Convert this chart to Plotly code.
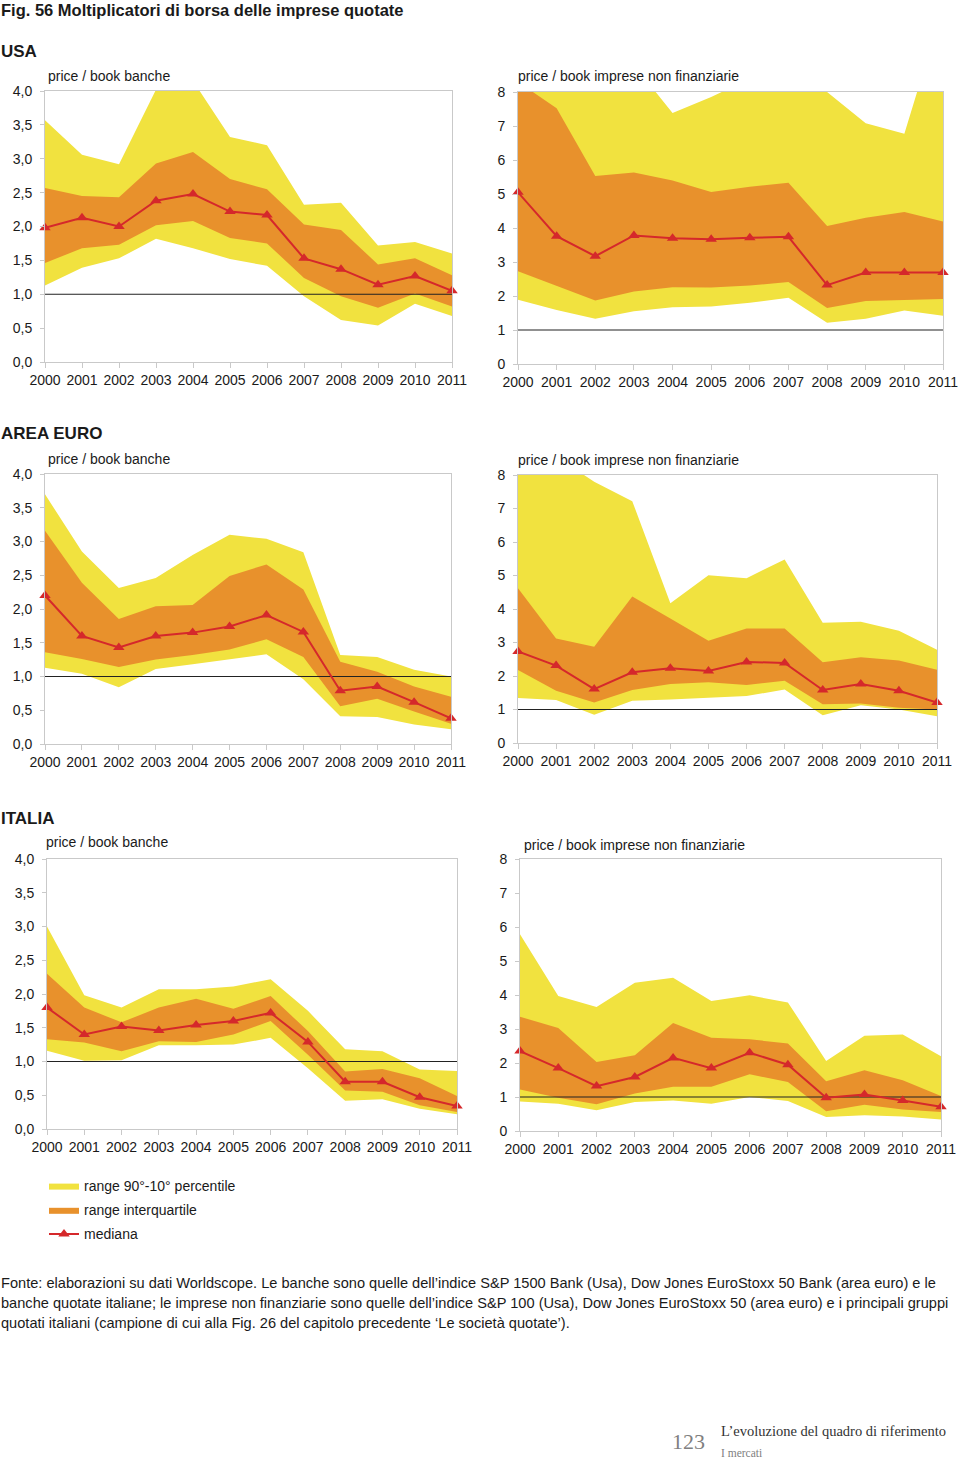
import plotly.graph_objects as go

# ---------------- DATA ----------------
YEARS = [2000, 2001, 2002, 2003, 2004, 2005, 2006, 2007, 2008, 2009, 2010, 2011]

# USA - banche
USA_BANK_P90 = [3.57, 3.06, 2.92, 4.02, 4.15, 3.32, 3.20, 2.32, 2.35, 1.72, 1.77, 1.60]
USA_BANK_Q75 = [2.57, 2.45, 2.43, 2.93, 3.10, 2.70, 2.55, 2.03, 1.95, 1.44, 1.53, 1.28]
USA_BANK_MED = [1.98, 2.13, 2.00, 2.38, 2.48, 2.22, 2.17, 1.53, 1.37, 1.14, 1.27, 1.05]
USA_BANK_Q25 = [1.46, 1.68, 1.73, 2.02, 2.08, 1.83, 1.75, 1.24, 0.97, 0.80, 1.01, 0.82]
USA_BANK_P10 = [1.13, 1.39, 1.53, 1.82, 1.68, 1.52, 1.42, 0.97, 0.62, 0.54, 0.86, 0.68]

# USA - imprese non finanziarie
USA_NF_P90 = [9.5, 9.3, 9.0, 8.8, 7.38, 7.85, 8.4, 9.0, 8.0, 7.08, 6.77, 10.5]
USA_NF_Q75 = [8.3, 7.52, 5.53, 5.63, 5.40, 5.06, 5.21, 5.33, 4.06, 4.30, 4.47, 4.19]
USA_NF_MED = [5.05, 3.76, 3.17, 3.78, 3.70, 3.67, 3.71, 3.74, 2.32, 2.69, 2.69, 2.69]
USA_NF_Q25 = [2.73, 2.29, 1.87, 2.13, 2.26, 2.25, 2.31, 2.41, 1.65, 1.85, 1.87, 1.91]
USA_NF_P10 = [1.89, 1.59, 1.33, 1.55, 1.67, 1.69, 1.80, 1.95, 1.21, 1.33, 1.57, 1.42]

# AREA EURO - banche
EUR_BANK_P90 = [3.70, 2.85, 2.31, 2.46, 2.80, 3.10, 3.04, 2.84, 1.32, 1.29, 1.10, 1.00]
EUR_BANK_Q75 = [3.16, 2.39, 1.85, 2.04, 2.06, 2.49, 2.66, 2.29, 1.22, 1.07, 0.85, 0.70]
EUR_BANK_MED = [2.20, 1.60, 1.43, 1.60, 1.65, 1.74, 1.91, 1.66, 0.79, 0.85, 0.62, 0.38]
EUR_BANK_Q25 = [1.36, 1.26, 1.14, 1.25, 1.32, 1.40, 1.55, 1.29, 0.56, 0.67, 0.48, 0.30]
EUR_BANK_P10 = [1.13, 1.04, 0.84, 1.11, 1.18, 1.25, 1.33, 0.96, 0.41, 0.40, 0.29, 0.22]

# AREA EURO - imprese non finanziarie
EUR_NF_P90 = [9.0, 8.55, 7.80, 7.22, 4.17, 5.01, 4.92, 5.48, 3.59, 3.62, 3.35, 2.78]
EUR_NF_Q75 = [4.62, 3.12, 2.87, 4.37, 3.72, 3.05, 3.42, 3.42, 2.41, 2.56, 2.46, 2.19]
EUR_NF_MED = [2.73, 2.31, 1.61, 2.11, 2.23, 2.15, 2.42, 2.39, 1.58, 1.76, 1.56, 1.21]
EUR_NF_Q25 = [2.18, 1.56, 1.21, 1.58, 1.76, 1.81, 1.73, 1.86, 1.16, 1.18, 1.05, 1.00]
EUR_NF_P10 = [1.34, 1.28, 0.84, 1.26, 1.30, 1.35, 1.40, 1.60, 0.83, 1.13, 1.00, 0.80]

# ITALIA - banche
ITA_BANK_P90 = [3.00, 1.98, 1.80, 2.07, 2.07, 2.11, 2.22, 1.75, 1.18, 1.15, 0.88, 0.86]
ITA_BANK_Q75 = [2.30, 1.80, 1.58, 1.80, 1.93, 1.78, 1.97, 1.45, 0.85, 0.89, 0.75, 0.49]
ITA_BANK_MED = [1.80, 1.40, 1.52, 1.46, 1.54, 1.60, 1.72, 1.29, 0.70, 0.70, 0.47, 0.34]
ITA_BANK_Q25 = [1.33, 1.28, 1.15, 1.30, 1.29, 1.40, 1.60, 1.10, 0.57, 0.55, 0.35, 0.25]
ITA_BANK_P10 = [1.16, 1.01, 1.02, 1.24, 1.24, 1.25, 1.35, 0.90, 0.42, 0.44, 0.30, 0.22]

# ITALIA - imprese non finanziarie
ITA_NF_P90 = [5.79, 3.97, 3.65, 4.36, 4.51, 3.82, 3.99, 3.78, 2.06, 2.80, 2.84, 2.20]
ITA_NF_Q75 = [3.36, 3.03, 2.03, 2.23, 3.18, 2.74, 2.70, 2.57, 1.46, 1.79, 1.49, 1.03]
ITA_NF_MED = [2.35, 1.85, 1.32, 1.59, 2.15, 1.85, 2.30, 1.95, 0.98, 1.07, 0.90, 0.71]
ITA_NF_Q25 = [1.22, 0.98, 0.79, 1.10, 1.30, 1.30, 1.67, 1.44, 0.58, 0.77, 0.63, 0.56]
ITA_NF_P10 = [0.87, 0.80, 0.61, 0.85, 0.90, 0.80, 1.00, 0.88, 0.41, 0.46, 0.43, 0.34]

REF_LEVEL = 1  # price/book = 1 reference line

SUBTITLE_BANK = "price / book banche"
SUBTITLE_NF = "price / book imprese non finanziarie"
LEGEND_NAMES = ["range 90°-10° percentile", "range interquartile", "mediana"]

# ---------------- STYLE ----------------
W, H = 960, 1460
YELLOW = "#F1E23F"
ORANGE = "#E8912C"
RED = "#D5282B"
FRAME = "#C9C9C9"
TXT = "#1a1a1a"
FONT = "Liberation Sans, Arial, sans-serif"
TITLE_FONT = "Liberation Sans, Arial, sans-serif"


def px(x):
    return x / W


def py(y):
    return 1 - y / H


# panel definitions: (data, x-pixel span, y-pixel span (top,bottom), ymax, dtick, fmt)
panels = [
    ((USA_BANK_P10, USA_BANK_Q25, USA_BANK_MED, USA_BANK_Q75, USA_BANK_P90), (45, 452), (91, 362), 4, 0.5, ".1f"),
    ((USA_NF_P10, USA_NF_Q25, USA_NF_MED, USA_NF_Q75, USA_NF_P90), (518, 943), (92, 364), 8, 1, "d"),
    ((EUR_BANK_P10, EUR_BANK_Q25, EUR_BANK_MED, EUR_BANK_Q75, EUR_BANK_P90), (45, 451), (474, 744), 4, 0.5, ".1f"),
    ((EUR_NF_P10, EUR_NF_Q25, EUR_NF_MED, EUR_NF_Q75, EUR_NF_P90), (518, 937), (475, 743), 8, 1, "d"),
    ((ITA_BANK_P10, ITA_BANK_Q25, ITA_BANK_MED, ITA_BANK_Q75, ITA_BANK_P90), (47, 457), (859, 1129), 4, 0.5, ".1f"),
    ((ITA_NF_P10, ITA_NF_Q25, ITA_NF_MED, ITA_NF_Q75, ITA_NF_P90), (520, 941), (859, 1131), 8, 1, "d"),
]

fig = go.Figure()
layout_axes = {}

for i, (data, (x0, x1), (yt, yb), ymax, dtick, fmt) in enumerate(panels, start=1):
    p10, q25, med, q75, p90 = data
    xa = "x" if i == 1 else f"x{i}"
    ya = "y" if i == 1 else f"y{i}"
    first = i == 1

    fig.add_trace(go.Scatter(x=YEARS, y=p10, xaxis=xa, yaxis=ya, mode="lines",
                             line=dict(width=0, color=YELLOW), showlegend=False,
                             hoverinfo="skip", legendgroup="g1"))
    fig.add_trace(go.Scatter(x=YEARS, y=p90, xaxis=xa, yaxis=ya, mode="lines",
                             line=dict(width=0, color=YELLOW), fill="tonexty",
                             fillcolor=YELLOW, name=LEGEND_NAMES[0], showlegend=first,
                             legendgroup="g1"))
    fig.add_trace(go.Scatter(x=YEARS, y=q25, xaxis=xa, yaxis=ya, mode="lines",
                             line=dict(width=0, color=ORANGE), showlegend=False,
                             hoverinfo="skip", legendgroup="g2"))
    fig.add_trace(go.Scatter(x=YEARS, y=q75, xaxis=xa, yaxis=ya, mode="lines",
                             line=dict(width=0, color=ORANGE), fill="tonexty",
                             fillcolor=ORANGE, name=LEGEND_NAMES[1], showlegend=first,
                             legendgroup="g2"))
    fig.add_trace(go.Scatter(x=[YEARS[0], YEARS[-1]], y=[REF_LEVEL, REF_LEVEL],
                             xaxis=xa, yaxis=ya, mode="lines",
                             line=dict(width=1.2, color="#222222"), showlegend=False,
                             hoverinfo="skip"))
    fig.add_trace(go.Scatter(x=YEARS, y=med, xaxis=xa, yaxis=ya, mode="lines+markers",
                             line=dict(width=2, color=RED),
                             marker=dict(symbol="triangle-up", size=10, color=RED),
                             name=LEGEND_NAMES[2], showlegend=first, legendgroup="g3",
                             cliponaxis=False))

    xkey = "xaxis" if i == 1 else f"xaxis{i}"
    ykey = "yaxis" if i == 1 else f"yaxis{i}"
    layout_axes[xkey] = dict(
        domain=[px(x0), px(x1)], anchor=ya, range=[YEARS[0], YEARS[-1]],
        tickvals=YEARS, ticks="outside", ticklen=5, tickcolor=FRAME,
        showline=True, linecolor=FRAME, linewidth=1, mirror=True, automargin=False,
        showgrid=False, zeroline=False, tickfont=dict(size=14, color=TXT, family=FONT),
    )
    layout_axes[ykey] = dict(
        domain=[py(yb), py(yt)], anchor=xa, range=[0, ymax], dtick=dtick, tick0=0,
        tickformat=fmt, ticks="outside", ticklen=4, tickcolor=FRAME,
        showline=True, linecolor=FRAME, linewidth=1, mirror=True, automargin=False,
        showgrid=False, zeroline=False, tickfont=dict(size=14, color=TXT, family=FONT),
        ticklabelstandoff=5,
    )

annotations = []


def note(text, x, y, size, color=TXT, family=FONT, bold=False, xanchor="left"):
    t = f"<b>{text}</b>" if bold else text
    annotations.append(dict(text=t, x=px(x), y=py(y), xref="paper", yref="paper",
                            xanchor=xanchor, yanchor="middle", showarrow=False,
                            font=dict(size=size, color=color, family=family)))


note("Fig. 56 Moltiplicatori di borsa delle imprese quotate", -1, 10, 16.5, family=TITLE_FONT, bold=True)
note("USA", -1, 51, 17, family=TITLE_FONT, bold=True)
note("AREA EURO", -1, 434, 17, family=TITLE_FONT, bold=True)
note("ITALIA", -1, 818, 17, family=TITLE_FONT, bold=True)

note(SUBTITLE_BANK, 46, 76, 14)
note(SUBTITLE_NF, 516, 76, 14)
note(SUBTITLE_BANK, 46, 459, 14)
note(SUBTITLE_NF, 516, 460, 14)
note(SUBTITLE_BANK, 44, 842, 14)
note(SUBTITLE_NF, 522, 845, 14)

footer_lines = [
    "Fonte: elaborazioni su dati Worldscope. Le banche sono quelle dell’indice S&amp;P 1500 Bank (Usa), Dow Jones EuroStoxx 50 Bank (area euro) e le",
    "banche quotate italiane; le imprese non finanziarie sono quelle dell’indice S&amp;P 100 (Usa), Dow Jones EuroStoxx 50 (area euro) e i principali gruppi",
    "quotati italiani (campione di cui alla Fig. 26 del capitolo precedente ‘Le società quotate’).",
]
for k, line in enumerate(footer_lines):
    note(line, -1, 1283 + 20 * k, 14.6)

SERIF = "Liberation Serif, DejaVu Serif, serif"
note("123", 688, 1441, 22, color="#808080", family=SERIF, xanchor="center")
note("L’evoluzione del quadro di riferimento", 719, 1431, 14.5, color="#333333", family=SERIF)
note("I mercati", 719, 1453, 11.5, color="#808080", family=SERIF)

fig.update_layout(
    width=W, height=H, margin=dict(l=0, r=0, t=0, b=0, autoexpand=False),
    paper_bgcolor="white", plot_bgcolor="white",
    separators=",.",
    font=dict(family=FONT, size=14, color=TXT),
    showlegend=True,
    legend=dict(x=px(44), y=py(1170), xanchor="left", yanchor="top",
                traceorder="grouped", tracegroupgap=3, itemwidth=30,
                font=dict(size=14, color=TXT, family=FONT), bgcolor="rgba(0,0,0,0)"),
    annotations=annotations,
    **layout_axes,
)

fig.write_html(
    "out.html",
    config={"displayModeBar": False},
    post_script="document.body.style.margin='0';document.body.style.overflow='hidden';",
)
